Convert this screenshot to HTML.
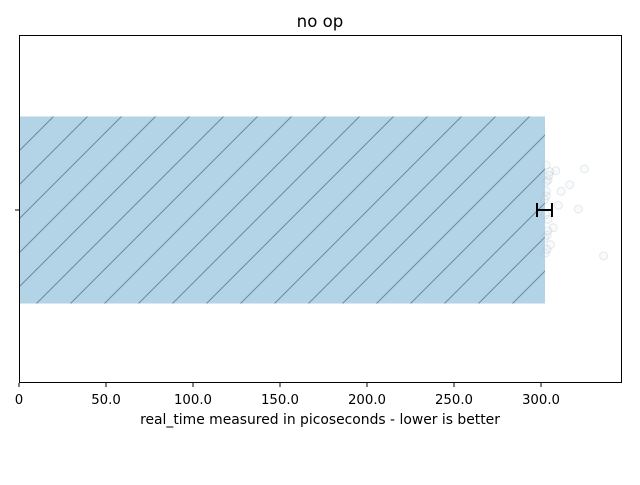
<!DOCTYPE html>
<html><head><meta charset="utf-8"><style>
body{margin:0;background:#fff;font-family:"Liberation Sans","DejaVu Sans",sans-serif}
svg text{font-family:"DejaVu Sans","Liberation Sans",sans-serif}
</style></head><body>
<svg id="c" width="640" height="480" xmlns="http://www.w3.org/2000/svg">
<defs>
<pattern id="hatch" patternUnits="userSpaceOnUse" width="34" height="34">
<path d="M-5,39 L39,-5 M-5,5 L5,-5 M29,39 L39,29" stroke="#6a8aa0" stroke-width="1"/>
</pattern>
<clipPath id="pc"><rect x="19" y="35" width="603" height="348"/></clipPath>
</defs>
<text x="320" y="27" text-anchor="middle" font-size="16.6">no op</text>
<g id="plot" clip-path="url(#pc)"></g>
<rect x="19.5" y="35.5" width="602" height="347" fill="none" stroke="#000" stroke-width="1"/>
<line x1="15" y1="210" x2="19" y2="210" stroke="#000"/>
<g id="xt"></g>
<text x="320" y="424" text-anchor="middle" font-size="13.9">real_time measured in picoseconds - lower is better</text>
</svg>
<script>
const barValue = 302.3;
const errLow = 297.7;
const errHigh = 306.3;
const ticks = [0, 50, 100, 150, 200, 250, 300];
const tickLabels = ["0", "50.0", "100.0", "150.0", "200.0", "250.0", "300.0"];
const pointValues = [325, 316.5, 311.5, 321.5, 336, 308.5, 310, 307, 305, 304, 303, 305.5, 303.5, 302, 303, 304, 303.5, 302.5, 304.5, 302, 303, 304, 302.5, 303];
const pointJitter = [-0.44, -0.27, -0.2, -0.01, 0.49, -0.42, -0.05, 0.19, -0.41, -0.32, -0.48, 0.37, 0.27, -0.11, -0.2, 0.1, 0.42, 0.05, -0.37, 0.3, -0.15, 0.22, 0.46, -0.3];
const X0 = 19, XS = 522 / 300, YC = 210, BH = 187;
const x = v => X0 + v * XS;
const y = j => YC + j * BH / 2;
const ns = "http://www.w3.org/2000/svg";
const plot = document.getElementById('plot');
function mk(tag, attrs, parent) { const e = document.createElementNS(ns, tag); for (const k in attrs) e.setAttribute(k, attrs[k]); parent.appendChild(e); return e; }
const bar = mk('rect', {x: x(0), y: YC - BH / 2, width: x(barValue) - x(0), height: BH, fill: '#b3d3e6'}, plot);


const hatch = mk('rect', {x: x(0), y: YC - BH / 2, width: x(barValue) - x(0), height: BH, fill: 'url(#hatch)'}, plot);


pointValues.forEach((v, i) => {
  const c = mk('circle', {cx: x(v), cy: y(pointJitter[i]), r: 4, fill: 'rgba(200,215,225,0.12)', stroke: 'rgba(170,190,200,0.3)', 'stroke-width': 1}, plot);
  
  
});
const eg = mk('g', {stroke: '#000', 'stroke-width': 2}, plot);


mk('line', {x1: x(errLow), y1: YC, x2: x(errHigh), y2: YC}, eg);
mk('line', {x1: x(errLow), y1: YC - 7, x2: x(errLow), y2: YC + 7}, eg);
mk('line', {x1: x(errHigh), y1: YC - 7, x2: x(errHigh), y2: YC + 7}, eg);
const xt = document.getElementById('xt');
ticks.forEach((t, i) => {
  const l = mk('line', {x1: x(t), y1: 383, x2: x(t), y2: 387, stroke: '#000'}, xt);
  
  
  const tx = mk('text', {x: x(t), y: 404, 'text-anchor': 'middle', 'font-size': 13.3}, xt);
  tx.textContent = tickLabels[i];
  
  
});
</script>
</body></html>
